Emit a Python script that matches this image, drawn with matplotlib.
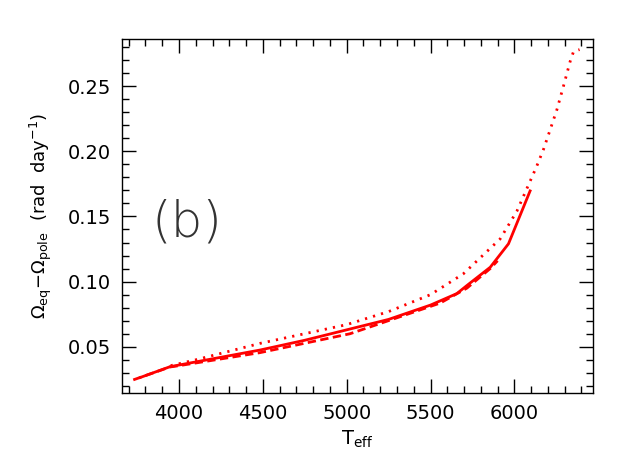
import matplotlib
matplotlib.use("Agg")
import matplotlib.pyplot as plt
from matplotlib.ticker import MultipleLocator

# differential rotation vs effective temperature
t_solid = [3770, 3946, 4000, 4483, 4750, 5000, 5250, 5500, 5657, 5717, 5856, 5965, 6094]
d_solid = [0.0265, 0.0347, 0.0360, 0.0475, 0.0550, 0.0630, 0.0710, 0.0820, 0.0908, 0.0970, 0.1110, 0.1290, 0.1696]

t_dash = [3727, 3946, 4000, 4483, 5020, 5557, 5717, 5856, 5900]
d_dash = [0.0246, 0.0345, 0.0355, 0.0455, 0.0600, 0.0835, 0.0950, 0.1100, 0.1160]

t_dot = [3950, 4100, 4483, 5000, 5250, 5500, 5696, 5915, 6015, 6094, 6134, 6174,
         6214, 6254, 6293, 6333, 6353, 6389]
d_dot = [0.0355, 0.0400, 0.0526, 0.0670, 0.0770, 0.0900, 0.1060, 0.1327, 0.1540,
         0.1770, 0.1887, 0.2015, 0.2167, 0.2320, 0.2500, 0.2690, 0.2765, 0.2780]

fig = plt.figure(figsize=(6.29, 4.72), dpi=100)
ax = fig.add_axes([0.194, 0.167, 0.749, 0.750])

ax.plot(t_solid, d_solid, color='red', lw=2.0, ls='-')
ax.plot(t_dash, d_dash, color='red', lw=2.0, ls=(0, (3, 1.6)))
ax.plot(t_dot, d_dot, color='red', lw=2.0, ls=(0, (0.8, 2.2)))

ax.set_xlim(3660, 6470)
ax.set_ylim(0.0144, 0.286)
ax.xaxis.set_major_locator(MultipleLocator(500))
ax.xaxis.set_minor_locator(MultipleLocator(100))
ax.yaxis.set_major_locator(MultipleLocator(0.05))
ax.yaxis.set_minor_locator(MultipleLocator(0.01))
ax.yaxis.set_major_formatter(plt.FuncFormatter(lambda v, p: '%.2f' % v))
ax.tick_params(which='both', direction='in', top=True, right=True, labelsize=14, pad=8)
ax.tick_params(which='major', length=10, width=1)
ax.tick_params(which='minor', length=5, width=1)
for s in ax.spines.values():
    s.set_linewidth(1)

ax.set_xlabel(r'T$_{\rm eff}$', fontsize=14)
ax.set_ylabel(r'$\Omega_{\rm eq}$$-$$\Omega_{\rm pole}$  (rad  day$^{-1}$)', fontsize=13, labelpad=10)

ax.text(4048, 0.1452, '(b)', fontsize=36, family='DejaVu Sans', fontweight='light',
        ha='center', va='center', color='#333333')

fig.savefig('out.png', dpi=100)
